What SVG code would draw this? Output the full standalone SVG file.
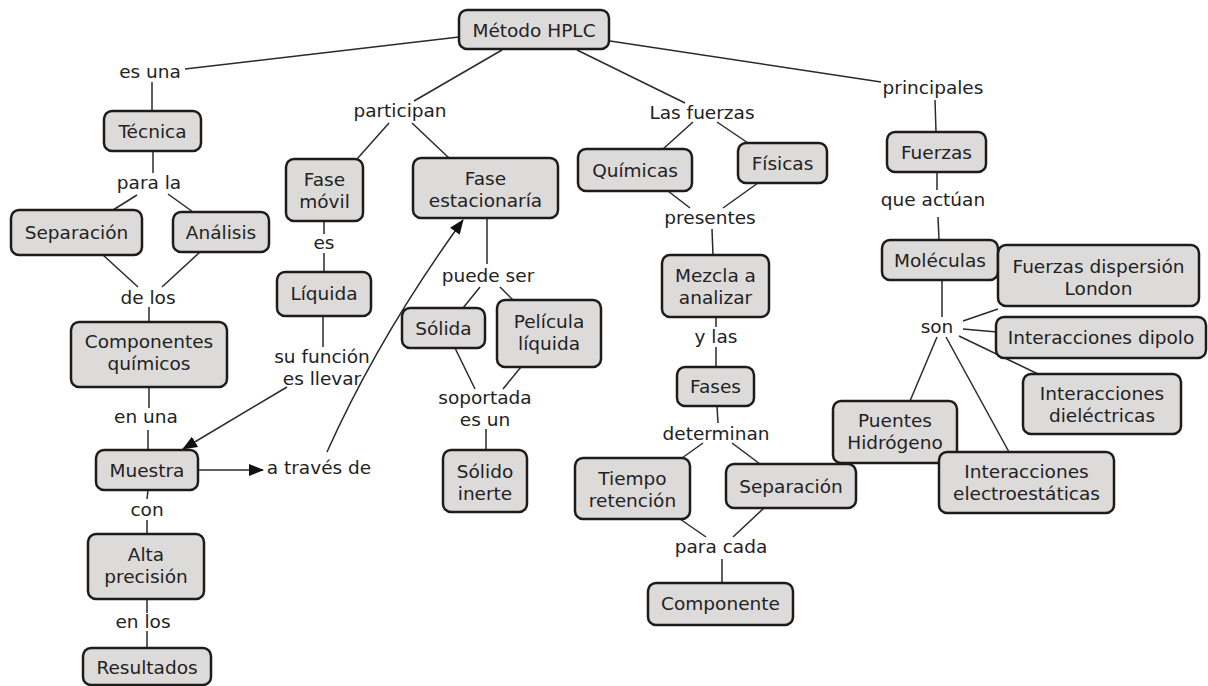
<svg xmlns="http://www.w3.org/2000/svg" width="1208" height="686" viewBox="0 0 1208 686">
  <defs>
    <marker id="arrow" markerUnits="userSpaceOnUse" markerWidth="15" markerHeight="12" refX="14" refY="6" orient="auto">
      <path d="M0,0 L15,6 L0,12 z" fill="#111"/>
    </marker>
    <style>
      .node rect { fill: #dddada; stroke: #1c1c1c; stroke-width: 2.5; }
      text { font-family: "DejaVu Sans", "Liberation Sans", sans-serif; font-size: 18.5px; fill: #222; text-anchor: middle; }
      .conn line, .conn path { stroke: #2a2a2a; stroke-width: 1.5; fill: none; }
    </style>
  </defs>
  <rect width="1208" height="686" fill="#ffffff"/>

  <!-- connectors -->
  <g id="connectors" class="conn">
    <line x1="459" y1="37" x2="185" y2="69"/>
    <line x1="152" y1="82" x2="152" y2="111"/>
    <line x1="502" y1="50" x2="414" y2="101"/>
    <line x1="389" y1="123" x2="357" y2="159"/>
    <line x1="412" y1="123" x2="449" y2="158"/>
    <line x1="577" y1="50" x2="685" y2="103"/>
    <line x1="693" y1="122" x2="663" y2="149"/>
    <line x1="717" y1="122" x2="748" y2="143"/>
    <line x1="610" y1="41" x2="881" y2="82"/>
    <line x1="935" y1="100" x2="936" y2="132"/>
    <line x1="937" y1="172" x2="937" y2="190"/>
    <line x1="938" y1="217" x2="939" y2="240"/>
    <line x1="153" y1="151" x2="153" y2="173"/>
    <line x1="137" y1="195" x2="113" y2="210"/>
    <line x1="168" y1="194" x2="193" y2="212"/>
    <line x1="103" y1="255" x2="138" y2="287"/>
    <line x1="200" y1="252" x2="162" y2="287"/>
    <line x1="149" y1="307" x2="149" y2="322"/>
    <line x1="149" y1="387" x2="149" y2="408"/>
    <line x1="148" y1="430" x2="148" y2="450"/>
    <line x1="148" y1="490" x2="147" y2="499"/>
    <line x1="147" y1="520" x2="147" y2="534"/>
    <line x1="147" y1="599" x2="147" y2="613"/>
    <line x1="147" y1="631" x2="147" y2="648"/>
    <line x1="324" y1="221" x2="324" y2="234"/>
    <line x1="324" y1="253" x2="324" y2="272"/>
    <line x1="323" y1="316" x2="323" y2="347"/>
    <line x1="287" y1="387" x2="183" y2="449" marker-end="url(#arrow)"/>
    <line x1="199" y1="470" x2="263" y2="470" marker-end="url(#arrow)"/>
    <path d="M327,452 Q379,336 463,220" marker-end="url(#arrow)"/>
    <line x1="487" y1="218" x2="487" y2="264"/>
    <line x1="480" y1="287" x2="463" y2="308"/>
    <line x1="500" y1="287" x2="513" y2="300"/>
    <line x1="455" y1="348" x2="475" y2="389"/>
    <line x1="521" y1="367" x2="503" y2="389"/>
    <line x1="486" y1="429" x2="486" y2="450"/>
    <line x1="668" y1="191" x2="690" y2="208"/>
    <line x1="758" y1="183" x2="723" y2="208"/>
    <line x1="712" y1="229" x2="713" y2="255"/>
    <line x1="716" y1="317" x2="716" y2="327"/>
    <line x1="716" y1="347" x2="716" y2="367"/>
    <line x1="717" y1="406" x2="718" y2="423"/>
    <line x1="703" y1="443" x2="682" y2="458"/>
    <line x1="732" y1="443" x2="760" y2="464"/>
    <line x1="680" y1="519" x2="706" y2="537"/>
    <line x1="764" y1="508" x2="733" y2="537"/>
    <line x1="722" y1="559" x2="722" y2="583"/>
    <line x1="942" y1="280" x2="942" y2="317"/>
    <line x1="963" y1="321" x2="998" y2="309"/>
    <line x1="963" y1="329" x2="997" y2="332"/>
    <line x1="959" y1="336" x2="1038" y2="374"/>
    <line x1="937" y1="337" x2="910" y2="401"/>
    <line x1="946" y1="337" x2="1009" y2="452"/>
  </g>

  <!-- linking phrases -->
  <g id="labels">
    <text x="150" y="78">es una</text>
    <text x="400" y="117">participan</text>
    <text x="702" y="119">Las fuerzas</text>
    <text x="933" y="94">principales</text>
    <text x="149" y="189">para la</text>
    <text x="148" y="304">de los</text>
    <text x="324" y="249">es</text>
    <text x="322" y="363">su función</text>
    <text x="322" y="385">es llevar</text>
    <text x="146" y="423">en una</text>
    <text x="319" y="474">a través de</text>
    <text x="147" y="516">con</text>
    <text x="143" y="628">en los</text>
    <text x="488" y="282">puede ser</text>
    <text x="485" y="404">soportada</text>
    <text x="485" y="426">es un</text>
    <text x="710" y="224">presentes</text>
    <text x="716" y="343">y las</text>
    <text x="716" y="440">determinan</text>
    <text x="721" y="553">para cada</text>
    <text x="933" y="206">que actúan</text>
    <text x="937" y="333">son</text>
  </g>

  <!-- concepts -->
  <g id="metodo-hplc" class="node"><rect x="459" y="10" width="150" height="39" rx="8"/><text x="534" y="37">Método HPLC</text></g>
  <g id="tecnica" class="node"><rect x="104" y="111" width="97" height="40" rx="8"/><text x="152.5" y="138">Técnica</text></g>
  <g id="separacion-1" class="node"><rect x="11" y="210" width="131" height="45" rx="8"/><text x="76.5" y="239">Separación</text></g>
  <g id="analisis" class="node"><rect x="173" y="212" width="96" height="40" rx="8"/><text x="221" y="238.5">Análisis</text></g>
  <g id="componentes-quimicos" class="node"><rect x="71" y="322" width="156" height="65" rx="8"/><text x="149" y="348">Componentes</text><text x="149" y="369.5">químicos</text></g>
  <g id="muestra" class="node"><rect x="96" y="450" width="102" height="40" rx="8"/><text x="147" y="477">Muestra</text></g>
  <g id="alta-precision" class="node"><rect x="88" y="534" width="116" height="65" rx="8"/><text x="146" y="561">Alta</text><text x="146" y="582.5">precisión</text></g>
  <g id="resultados" class="node"><rect x="83" y="648" width="128" height="37" rx="8"/><text x="147" y="674">Resultados</text></g>
  <g id="fase-movil" class="node"><rect x="286" y="159" width="77" height="62" rx="8"/><text x="324.5" y="186">Fase</text><text x="324.5" y="208">móvil</text></g>
  <g id="liquida" class="node"><rect x="277" y="272" width="94" height="44" rx="8"/><text x="324" y="300">Líquida</text></g>
  <g id="fase-estacionaria" class="node"><rect x="413" y="158" width="145" height="60" rx="8"/><text x="485.5" y="185">Fase</text><text x="485.5" y="207">estacionaría</text></g>
  <g id="solida" class="node"><rect x="402" y="308" width="83" height="40" rx="8"/><text x="443.5" y="335">Sólida</text></g>
  <g id="pelicula-liquida" class="node"><rect x="497" y="300" width="104" height="67" rx="8"/><text x="549" y="328">Película</text><text x="549" y="349.5">líquida</text></g>
  <g id="solido-inerte" class="node"><rect x="443" y="450" width="84" height="62" rx="8"/><text x="485" y="478">Sólido</text><text x="485" y="499.5">inerte</text></g>
  <g id="quimicas" class="node"><rect x="578" y="149" width="114" height="42" rx="8"/><text x="635" y="176.5">Químicas</text></g>
  <g id="fisicas" class="node"><rect x="738" y="143" width="89" height="40" rx="8"/><text x="782.5" y="169.5">Físicas</text></g>
  <g id="mezcla" class="node"><rect x="662" y="255" width="107" height="62" rx="8"/><text x="715.5" y="282">Mezcla a</text><text x="715.5" y="303.5">analizar</text></g>
  <g id="fases" class="node"><rect x="677" y="367" width="77" height="39" rx="8"/><text x="715.5" y="393">Fases</text></g>
  <g id="tiempo-retencion" class="node"><rect x="575" y="458" width="115" height="61" rx="8"/><text x="632.5" y="485">Tiempo</text><text x="632.5" y="507">retención</text></g>
  <g id="separacion-2" class="node"><rect x="726" y="464" width="130" height="44" rx="8"/><text x="791" y="492.5">Separación</text></g>
  <g id="componente" class="node"><rect x="648" y="583" width="145" height="42" rx="8"/><text x="720.5" y="610">Componente</text></g>
  <g id="fuerzas" class="node"><rect x="887" y="132" width="99" height="40" rx="8"/><text x="936.5" y="158.5">Fuerzas</text></g>
  <g id="moleculas" class="node"><rect x="882" y="240" width="116" height="40" rx="8"/><text x="940" y="266.5">Moléculas</text></g>
  <g id="fuerzas-london" class="node"><rect x="998" y="245" width="201" height="61" rx="8"/><text x="1098.5" y="273">Fuerzas dispersión</text><text x="1098.5" y="294.5">London</text></g>
  <g id="interacciones-dipolo" class="node"><rect x="996" y="317" width="210" height="41" rx="8"/><text x="1101" y="344">Interacciones dipolo</text></g>
  <g id="interacciones-dielectricas" class="node"><rect x="1023" y="374" width="158" height="60" rx="8"/><text x="1102" y="400">Interacciones</text><text x="1102" y="421.5">dieléctricas</text></g>
  <g id="puentes-hidrogeno" class="node"><rect x="833" y="401" width="124" height="62" rx="8"/><text x="895" y="427">Puentes</text><text x="895" y="448.5">Hidrógeno</text></g>
  <g id="interacciones-electroestaticas" class="node"><rect x="939" y="452" width="175" height="61" rx="8"/><text x="1026.5" y="478">Interacciones</text><text x="1026.5" y="499.5">electroestáticas</text></g>
</svg>
